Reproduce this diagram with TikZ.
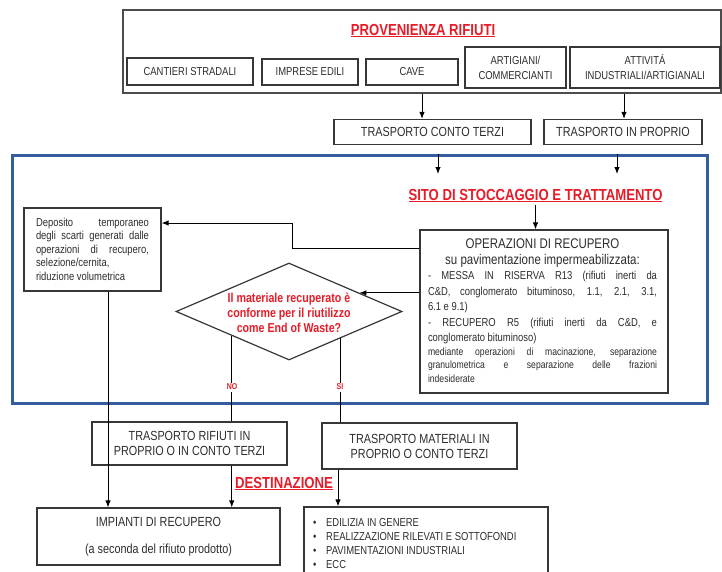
\documentclass[tikz,border=0pt]{standalone}
\usepackage{fontspec}
\setmainfont{Liberation Sans}[FakeStretch=0.82]
\usetikzlibrary{arrows.meta,shapes.geometric,calc}
\definecolor{tred}{RGB}{232,28,40}
\definecolor{tblue}{RGB}{52,93,158}
\definecolor{tgray}{RGB}{45,45,45}
\definecolor{bgray}{RGB}{55,55,55}
\setlength\parindent{0pt}
\hyphenpenalty=10000
\exhyphenpenalty=10000
\begin{document}
\begin{tikzpicture}[x=1pt,y=-1pt,
  box/.style={draw=bgray,line width=1.2pt,inner sep=0pt,align=center,text=tgray},
  sfont/.style={font=\fontsize{11.5}{15}\selectfont},
  mfont/.style={font=\fontsize{13.2}{15}\selectfont},
  titlered/.style={font=\bfseries\fontsize{16}{19}\selectfont,text=tred,inner sep=0pt},
  redb/.style={font=\bfseries\fontsize{13}{15}\selectfont,text=tred,inner sep=0pt},
  lbl/.style={font=\bfseries\fontsize{8.5}{10}\selectfont,text=tred,inner sep=1.5pt},
  listitem/.style={font=\fontsize{11.5}{14}\selectfont,text=tgray,inner sep=0pt,anchor=base west},
  arr/.style={line width=1pt,-{Latex[length=7pt,width=5.5pt]}},
  conn/.style={line width=1pt}]
\useasboundingbox (0,0) rectangle (722,571);
\fill[white] (0,0) rectangle (722,571);
\clip (0,0) rectangle (722,571);

% ---------- top: provenienza ----------
\node[box,line width=1.4pt,draw=gray!60!black,minimum width=598pt,minimum height=83pt] (prov) at (422,51.5) {};
\node[titlered,anchor=base] (provt) at (423,35) {\underline{PROVENIENZA RIFIUTI}};
\node[box,sfont,minimum width=126pt,minimum height=27pt] (cant) at (190,71.5) {CANTIERI STRADALI};
\node[box,sfont,minimum width=96pt,minimum height=26pt] (impr) at (310,72) {IMPRESE EDILI};
\node[box,sfont,minimum width=92pt,minimum height=26pt] (cave) at (412,72) {CAVE};
\node[box,sfont,minimum width=101pt,minimum height=41pt] (art) at (515.5,67.5) {ARTIGIANI/\\COMMERCIANTI};
\node[box,sfont,minimum width=150pt,minimum height=41pt] (att) at (645,67.5) {ATTIVITÁ\\INDUSTRIALI/ARTIGIANALI};

% ---------- transport ----------
\node[box,mfont,minimum width=197pt,minimum height=25pt] (tct) at (432.5,132) {TRASPORTO CONTO TERZI};
\node[box,mfont,minimum width=158pt,minimum height=25pt] (tip) at (623,132) {TRASPORTO IN PROPRIO};
\coordinate (a1) at (422,0);
\coordinate (a2) at (624,0);
\draw[arr] (prov.south -| a1) -- (tct.north -| a1);
\draw[arr] (prov.south -| a2) -- (tip.north -| a2);

% ---------- site ----------
\node[draw=tblue,line width=3pt,minimum width=695pt,minimum height=248pt,inner sep=0pt] (site) at (359.5,279) {};
\coordinate (b1) at (438,174);
\coordinate (b2) at (617,174);
\draw[arr] (site.north -| b1) -- (b1);
\draw[arr] (site.north -| b2) -- (b2);
\node[titlered,anchor=base] (sitot) at (535.5,200) {\underline{SITO DI STOCCAGGIO E TRATTAMENTO}};

\node[box,minimum width=248pt,minimum height=163pt] (oper) at (544,311.5) {};
\node[anchor=north,inner sep=0pt,text width=229pt,align=justify,text=tgray] (opert) at (542.5,238.5) {%
{\fontsize{14}{16}\selectfont\centering OPERAZIONI DI RECUPERO\\ su pavimentazione impermeabilizzata:\par}%
{\fontsize{11.5}{15.5}\selectfont - MESSA IN RISERVA R13 (rifiuti inerti da\linebreak C\&D, conglomerato bituminoso, 1.1, 2.1, 3.1,\linebreak 6.1 e 9.1)\par
- RECUPERO R5 (rifiuti inerti da C\&D, e\linebreak conglomerato bituminoso)\par}%
{\fontsize{10.5}{13.5}\selectfont mediante operazioni di macinazione, separazione\linebreak granulometrica e separazione delle frazioni\linebreak indesiderate\par}};
\draw[arr] (sitot.south) ++(0,3) -- (oper.north -| sitot.south);

\node[box,minimum width=137pt,minimum height=83pt] (dep) at (92.5,249.5) {};
\node[anchor=north,inner sep=0pt,text width=113pt,align=justify,text=tgray,font=\fontsize{11.5}{13.6}\selectfont] (dept) at (92.5,217.5) {Deposito temporaneo\linebreak degli scarti generati dalle\linebreak operazioni di recupero,\linebreak selezione/cernita,\\riduzione volumetrica};

\node[draw=bgray,line width=1.2pt,diamond,minimum width=226pt,minimum height=97pt,inner sep=0pt] (dia) at (289,311.5) {};
\node[redb,align=center] (diat) at (289,313) {Il materiale recuperato è\\conforme per il riutilizzo\\come End of Waste?};

\coordinate (k1) at (292,223);
\coordinate (y248) at (0,248);
\draw[arr] (oper.west |- y248) -| (k1) -- (dep.east |- k1);
\coordinate (dpt) at ($(dia.north)!0.62!(dia.east)$);
\draw[arr] (oper.west |- dpt) -- (dpt);

% ---------- bottom ----------
\node[box,mfont,minimum width=195pt,minimum height=43pt] (tr) at (189.5,443.5) {TRASPORTO RIFIUTI IN\\PROPRIO O IN CONTO TERZI};
\node[box,mfont,minimum width=195pt,minimum height=46pt] (tm) at (419.5,446) {TRASPORTO MATERIALI IN\\PROPRIO O CONTO TERZI};
\node[box,mfont,minimum width=243pt,minimum height=57pt] (imp) at (158.5,536.5) {IMPIANTI DI RECUPERO\\[12pt](a seconda del rifiuto prodotto)};
\node[box,minimum width=244pt,minimum height=70pt] (lst) at (426,542) {};
\node[listitem] (l1) at (313,526) {\makebox[13pt][l]{•}EDILIZIA IN GENERE};
\node[listitem] (l2) at (313,540) {\makebox[13pt][l]{•}REALIZZAZIONE RILEVATI E SOTTOFONDI};
\node[listitem] (l3) at (313,554) {\makebox[13pt][l]{•}PAVIMENTAZIONI INDUSTRIALI};
\node[listitem] (l4) at (313,568) {\makebox[13pt][l]{•}ECC};
\node[titlered,anchor=base] (dest) at (284,488) {\underline{DESTINAZIONE}};

\coordinate (noA) at ($(dia.south)!0.504!(dia.west)$);
\coordinate (siA) at ($(dia.south)!0.451!(dia.east)$);
\draw[conn] (noA) -- (tr.north -| noA);
\draw[conn] (siA) -- (tm.north -| siA);
\node[lbl,fill=white] (nol) at (232,387) {NO};
\node[lbl,fill=white] (sil) at (340,387) {SI};

\coordinate (c108) at (108,0);
\coordinate (c338) at (338,0);
\draw[arr] (dep.south -| c108) -- (imp.north -| c108);
\draw[arr] (tr.south -| noA) -- (imp.north -| noA);
\draw[arr] (tm.south -| c338) -- (lst.north -| c338);
\end{tikzpicture}
\end{document}
